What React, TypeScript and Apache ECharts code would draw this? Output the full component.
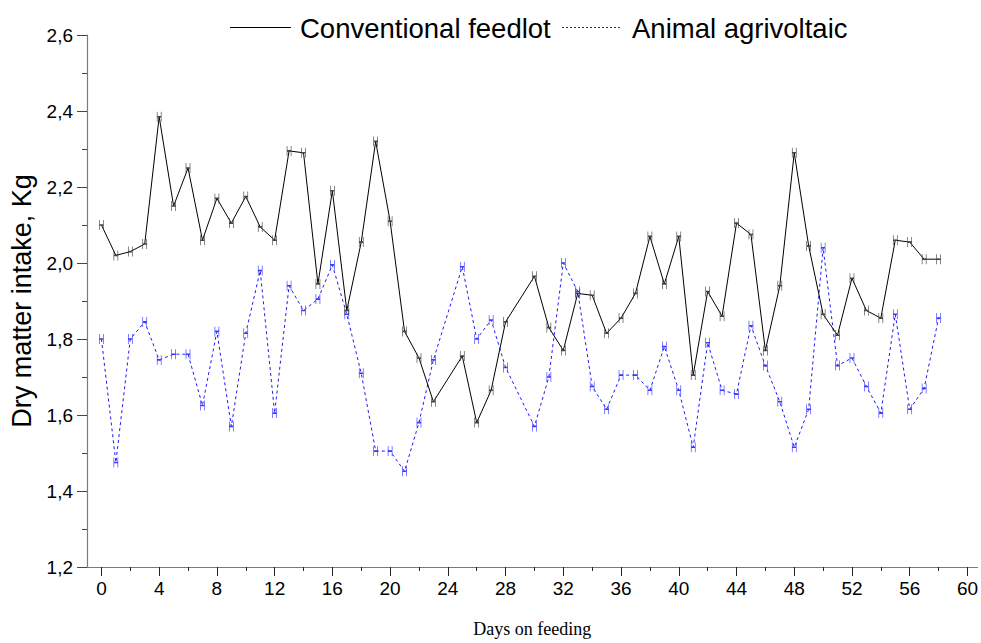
import React, { useEffect, useRef } from "react";
import * as echarts from "echarts";

const days: number[] = [
  0, 1, 2, 3, 4, 5, 6, 7, 8, 9, 10, 11, 12, 13, 14, 15, 16, 17, 18, 19, 20, 21, 22, 23,
  25, 26, 27, 28,
  30, 31, 32, 33, 34, 35, 36, 37, 38, 39, 40, 41, 42, 43, 44, 45, 46, 47, 48, 49, 50, 51, 52, 53, 54, 55, 56, 57, 58,
];

const conventional: number[] = [
  2.1, 2.02, 2.03, 2.05, 2.385, 2.15, 2.25, 2.06, 2.17, 2.105, 2.175, 2.095, 2.06, 2.295, 2.29, 1.945, 2.19, 1.875, 2.055, 2.32, 2.11, 1.82, 1.75, 1.635,
  1.755, 1.58, 1.665, 1.845,
  1.965, 1.83, 1.77, 1.92, 1.915, 1.815, 1.855, 1.92, 2.07, 1.945, 2.07, 1.705, 1.925, 1.86, 2.105, 2.075, 1.77, 1.94, 2.29, 2.045, 1.865, 1.81, 1.96, 1.875, 1.855, 2.06, 2.055, 2.01, 2.01,
];

const agrivoltaic: number[] = [
  1.8, 1.475, 1.8, 1.845, 1.745, 1.76, 1.76, 1.625, 1.82, 1.57, 1.815, 1.98, 1.605, 1.94, 1.875, 1.905, 1.995, 1.865, 1.71, 1.505, 1.505, 1.452, 1.58, 1.745,
  1.99, 1.8, 1.85, 1.725,
  1.57, 1.7, 2.0, 1.925, 1.675, 1.615, 1.705, 1.705, 1.665, 1.78, 1.665, 1.515, 1.79, 1.665, 1.655, 1.835, 1.73, 1.635, 1.515, 1.615, 2.04, 1.73, 1.75, 1.675, 1.605, 1.865, 1.615, 1.67, 1.855,
];

const seriesNames: string[] = ["Conventional feedlot", "Animal agrivoltaic"];
const xMajorTicks: number[] = [0, 4, 8, 12, 16, 20, 24, 28, 32, 36, 40, 44, 48, 52, 56, 60];
const xMinorTicks: number[] = [
  0, 2, 4, 6, 8, 10, 12, 14, 16, 18, 20, 22, 24, 26, 28, 30, 32, 34, 36, 38, 40, 42, 44, 46, 48, 50, 52, 54, 56, 58, 60,
];

const H_SYMBOL = "path://M0,0L0,10M4,0L4,10M0,5L4,5";
const SANS = "Liberation Sans, Arial, sans-serif";

export default function App() {
  const ref = useRef<HTMLDivElement>(null);

  useEffect(() => {
    if (!ref.current) return;
    const chart = echarts.init(ref.current, undefined, { renderer: "svg" });
    const pairs = (vals: number[]) => days.map((d, i) => [d, vals[i]]);

    chart.setOption({
      animation: false,
      backgroundColor: "#ffffff",
      grid: { left: 86, top: 35, right: 0, bottom: 76, containLabel: false },
      xAxis: [
        {
          type: "value",
          min: -1,
          max: 60.7,
          position: "bottom",
          axisLine: { show: true, onZero: false, lineStyle: { color: "#7a7a7a", width: 1.2 } },
          axisTick: { show: true, inside: false, customValues: xMinorTicks, length: 4, lineStyle: { color: "#222" } },
          axisLabel: { show: false },
          splitLine: { show: false },
        },
        {
          type: "value",
          min: -1,
          max: 60.7,
          position: "bottom",
          axisLine: { show: false, onZero: false },
          axisTick: { show: true, inside: false, customValues: xMajorTicks, length: 9, lineStyle: { color: "#222" } },
          axisLabel: {
            show: true,
            customValues: xMajorTicks,
            fontSize: 19,
            fontFamily: SANS,
            color: "#000",
            margin: 12,
          },
          splitLine: { show: false },
          name: "Days on feeding",
          nameLocation: "middle",
          nameGap: 53,
          nameTextStyle: { fontFamily: "Liberation Serif, Times New Roman, serif", fontSize: 18, color: "#000" },
        },
      ],
      yAxis: {
        type: "value",
        min: 1.2,
        max: 2.6,
        interval: 0.2,
        axisLine: { show: true, onZero: false, lineStyle: { color: "#7a7a7a", width: 1.2 } },
        axisTick: { show: true, inside: false, length: 10, lineStyle: { color: "#444" } },
        minorTick: { show: true, splitNumber: 2, length: 5, lineStyle: { color: "#444" } },
        axisLabel: {
          fontSize: 19,
          fontFamily: SANS,
          color: "#000",
          margin: 14,
          formatter: (v: number) => v.toFixed(1).replace(".", ","),
        },
        splitLine: { show: false },
        name: "Dry matter intake, Kg",
        nameLocation: "middle",
        nameGap: 52,
        nameTextStyle: { fontFamily: SANS, fontSize: 27, color: "#000" },
      },
      series: [
        {
          name: seriesNames[0],
          type: "line",
          xAxisIndex: 0,
          data: pairs(conventional),
          symbol: H_SYMBOL,
          symbolSize: [4, 10],
          showSymbol: true,
          lineStyle: { color: "#000", width: 1, type: "solid" },
          itemStyle: { color: "rgba(0,0,0,0)", borderColor: "#444", borderWidth: 1 },
          z: 3,
        },
        {
          name: seriesNames[1],
          type: "line",
          xAxisIndex: 0,
          data: pairs(agrivoltaic),
          symbol: H_SYMBOL,
          symbolSize: [4, 10],
          showSymbol: true,
          lineStyle: { color: "#1a1aff", width: 1, type: [3, 3] },
          itemStyle: { color: "rgba(0,0,0,0)", borderColor: "#3a3aff", borderWidth: 1 },
          z: 2,
        },
      ],
      graphic: [
        { type: "line", shape: { x1: 230, y1: 27.5, x2: 291, y2: 27.5 }, style: { stroke: "#000", lineWidth: 1 } },
        {
          type: "text",
          x: 300,
          y: 28,
          style: { text: seriesNames[0], fontSize: 27.5, fontFamily: SANS, fill: "#000", verticalAlign: "middle" },
        },
        {
          type: "line",
          shape: { x1: 562, y1: 27.5, x2: 620, y2: 27.5 },
          style: { stroke: "#1a1aff", lineWidth: 1, lineDash: [2, 2] },
        },
        {
          type: "text",
          x: 632,
          y: 28,
          style: { text: seriesNames[1], fontSize: 27.5, fontFamily: SANS, fill: "#000", verticalAlign: "middle" },
        },
      ],
    });

    return () => chart.dispose();
  }, []);

  return (
    <div
      ref={ref}
      style={{ position: "fixed", left: 0, top: 0, width: 981, height: 643, background: "#fff" }}
    />
  );
}
